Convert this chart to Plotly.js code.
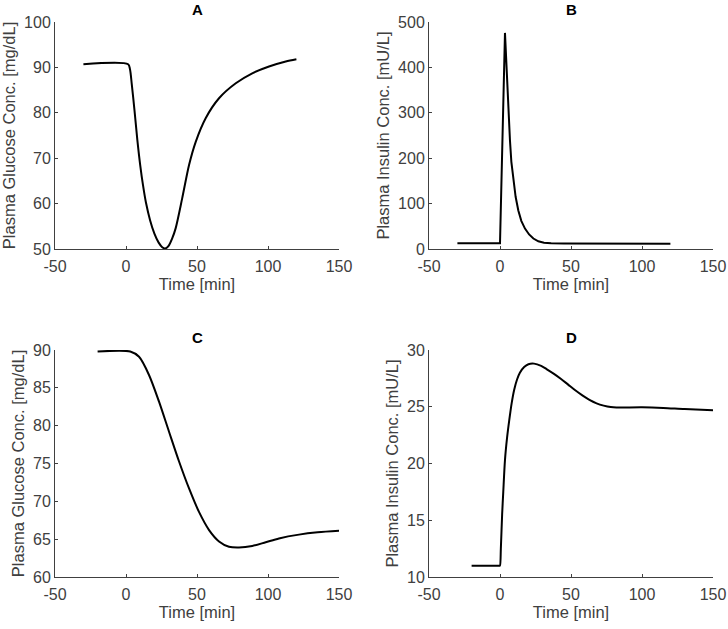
<!DOCTYPE html>
<html>
<head>
<meta charset="utf-8">
<script src="https://cdn.plot.ly/plotly-3.0.1.min.js"></script>
<style>
  body { margin: 0; background: #fff; }
  #plot { width: 728px; height: 629px; }
</style>
</head>
<body>
<div id="plot"></div>
<script>
// values
var timeA = [-30, 1.5, 2.8, 4, 6, 8, 10, 12, 14, 17, 20, 23, 25.5, 27.5, 30, 32.6, 35, 39.6, 44.4, 49.1, 56.1, 65.5, 77.3, 88.9, 100.7, 112.5, 120];
var glucoseA = [90.7, 90.7, 89.6, 86.5, 80.5, 74, 68.5, 64, 60.3, 56.3, 53.4, 51.4, 50.4, 50.1, 50.7, 52.4, 54.6, 61.2, 68.5, 73.6, 78.8, 83.2, 86.5, 88.7, 90.2, 91.3, 91.8];

var timeB = [-30, 0, 3.5, 4.7, 5.9, 7, 8, 9.4, 11, 12.9, 15, 17.6, 20.5, 23.5, 27, 31, 36, 45, 60, 80, 100, 120];
var insulinB = [12.5, 12.5, 476, 390, 300, 240, 192, 150, 115, 85, 62, 45, 32, 23, 17, 14, 12.5, 12, 11.8, 11.5, 11.6, 11.8];

var timeC = [-20, 3, 9.2, 16.2, 23.2, 30.3, 37.3, 44.4, 51.4, 58.5, 65.5, 72.5, 79.6, 88.9, 98.4, 107.7, 121.8, 135, 150];
var glucoseC = [89.8, 89.8, 89.1, 86.7, 83.2, 79.2, 75.3, 71.7, 68.6, 66.2, 64.7, 64.0, 63.9, 64.1, 64.6, 65.1, 65.6, 65.9, 66.1];

var timeD = [-20, -0.3, 0, 0.6, 1.5, 2.3, 3.5, 5, 6.5, 8.2, 10, 12, 14, 17, 20, 24, 29, 33, 38, 43, 48, 53, 58, 63, 68, 73, 78, 82, 100, 115, 130, 150];
var insulinD = [11, 11, 11, 12.5, 15.5, 17.5, 20.3, 22.3, 23.8, 25.3, 26.5, 27.4, 28, 28.5, 28.75, 28.8, 28.6, 28.3, 27.9, 27.45, 26.95, 26.45, 26, 25.6, 25.3, 25.1, 24.97, 24.93, 24.95, 24.9, 24.8, 24.7];

var xTicks = [-50, 0, 50, 100, 150];
var xTickText = ['-50', '0', '50', '100', '150'];
var panelTitles = ['A', 'B', 'C', 'D'];
var xLabel = 'Time [min]';
var yLabels = ['Plasma Glucose Conc. [mg/dL]', 'Plasma Insulin Conc. [mU/L]',
               'Plasma Glucose Conc. [mg/dL]', 'Plasma Insulin Conc. [mU/L]'];
var yRanges = [[50, 100], [0, 500], [60, 90], [10, 30]];
var yDtick = [10, 100, 5, 5];

var textColor = '#404040';
var fontFam = '"Liberation Sans", Arial, sans-serif';

function mkTrace(x, y, n, shape) {
    return {
        x: x, y: y,
        xaxis: 'x' + (n == 1 ? '' : n),
        yaxis: 'y' + (n == 1 ? '' : n),
        type: 'scatter',
        mode: 'lines',
        line: { color: '#000', width: 2, shape: shape, smoothing: 0.8 },
        hoverinfo: 'skip'
    };
}

var traces = [
    mkTrace(timeA, glucoseA, 1, 'spline'),
    mkTrace(timeB, insulinB, 2, 'linear'),
    mkTrace(timeC, glucoseC, 3, 'spline'),
    mkTrace(timeD, insulinD, 4, 'spline')
];

// pixel boxes of the four axes
var W = 728, H = 629;
var xDom = [[55 / W, 339 / W], [429 / W, 713 / W]];
var yDom = [[(H - 249) / H, (H - 22) / H], [(H - 577) / H, (H - 350) / H]];

var layout = {
    width: W, height: H,
    margin: { l: 0, r: 0, t: 0, b: 0 },
    paper_bgcolor: '#fff',
    plot_bgcolor: '#fff',
    showlegend: false,
    font: { family: fontFam, color: textColor, size: 16 },
    annotations: []
};

for (var i = 0; i < 4; i++) {
    var n = i + 1;
    var xs = 'xaxis' + (n == 1 ? '' : n);
    var ys = 'yaxis' + (n == 1 ? '' : n);
    var col = i % 2, row = Math.floor(i / 2);
    layout[xs] = {
        domain: xDom[col],
        anchor: 'y' + (n == 1 ? '' : n),
        range: [-50, 150],
        tickvals: xTicks,
        ticktext: xTickText,
        ticks: 'inside', ticklen: 3, tickcolor: textColor, tickwidth: 1,
        ticklabelstandoff: 3,
        showline: true, linecolor: textColor, linewidth: 1,
        showgrid: false, zeroline: false,
        tickfont: { size: 16, color: textColor },
        title: { text: xLabel, font: { size: 16.5, color: textColor }, standoff: 2 }
    };
    layout[ys] = {
        domain: yDom[row],
        anchor: 'x' + (n == 1 ? '' : n),
        range: yRanges[i],
        dtick: yDtick[i],
        ticks: 'inside', ticklen: 3, tickcolor: textColor, tickwidth: 1,
        showline: true, linecolor: textColor, linewidth: 1,
        showgrid: false, zeroline: false,
        tickfont: { size: 16, color: textColor },
        title: { text: yLabels[i], font: { size: 16.5, color: textColor }, standoff: 4 }
    };
    layout.annotations.push({
        text: '<b>' + panelTitles[i] + '</b>',
        xref: 'paper', yref: 'paper',
        x: (xDom[col][0] + xDom[col][1]) / 2,
        y: yDom[row][1],
        xanchor: 'center', yanchor: 'bottom',
        yshift: 2,
        showarrow: false,
        font: { size: 15, color: '#000' }
    });
}

Plotly.newPlot('plot', traces, layout, { staticPlot: true });
</script>
</body>
</html>
